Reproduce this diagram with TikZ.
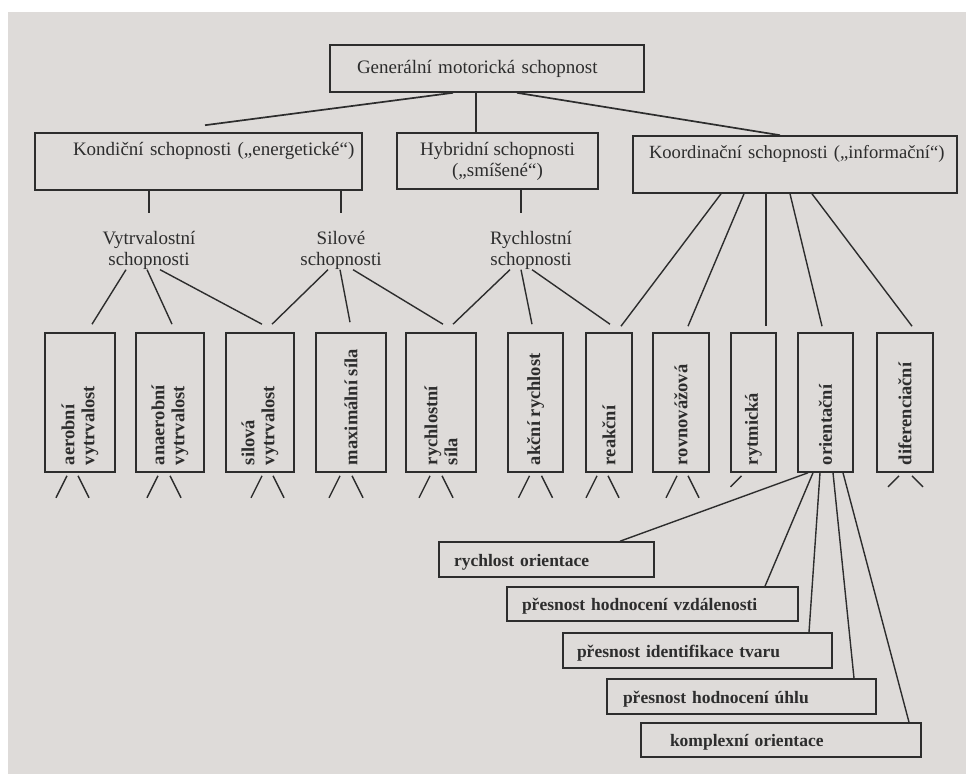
\documentclass[tikz,border=0pt]{standalone}
\usepackage{fontspec}
\setmainfont{Liberation Serif}
\usepackage{graphicx}
\definecolor{ink}{RGB}{45,45,45}
\definecolor{paper}{RGB}{222,219,217}
\newcommand{\vlab}[1]{\rotatebox{90}{\parbox{125pt}{\raggedright\bfseries\fontsize{18.5}{20}\selectfont #1}}}
\tikzset{
 box/.style={draw=ink, line width=1.6pt, inner sep=0pt, text=ink},
 tbox/.style={box, align=left, font=\fontsize{19}{21}\selectfont},
 vbox/.style={box, minimum height=139pt},
 obox/.style={box, align=left, font=\bfseries\fontsize{17.5}{20}\selectfont, text height=15pt, text depth=2pt},
 lab/.style={inner sep=0pt, text=ink, align=center, font=\fontsize{19}{21}\selectfont},
 con/.style={draw=ink, line width=1.4pt},
}
\begin{document}
\begin{tikzpicture}[x=1pt,y=-1pt]
\useasboundingbox (0,0) rectangle (966,774);
\fill[white] (0,0) rectangle (966,774);
\fill[paper] (8,12) rectangle (966,774);

% top level
\node[tbox, text width=314pt, minimum height=47pt] (gen) at (487,68.5) {\hspace*{27pt}Generální motorická schopnost};
\node[tbox, text width=327pt, minimum height=57pt, text height=14pt, text depth=27pt] (kond) at (198.5,161.5) {\hspace*{38pt}Kondiční schopnosti („energetické“)};
\node[box, align=center, font=\fontsize{19}{21}\selectfont, minimum width=201pt, minimum height=56pt] (hyb) at (497.5,161) {Hybridní schopnosti\\(„smíšené“)};
\node[tbox, text width=324pt, minimum height=57pt, text height=14pt, text depth=27pt, font=\fontsize{18.6}{21}\selectfont] (koord) at (795,164.5) {\hspace*{16pt}Koordinační schopnosti („informační“)};

\draw[con, line width=1.7pt] ([xshift=-34pt]gen.south) -- ([xshift=6.5pt,yshift=7pt]kond.north);
\draw[con] ([xshift=-11pt]gen.south) -- ([xshift=-21.5pt]hyb.north);
\draw[con, line width=1.7pt] ([xshift=30pt]gen.south) -- ([xshift=-15pt]koord.north);

% group labels
\node[lab, anchor=north] (vytr) at (149,231) {Vytrvalostní\\schopnosti};
\node[lab, anchor=north] (silo) at (341,231) {Silové\\schopnosti};
\node[lab, anchor=north] (rych) at (531,231) {Rychlostní\\schopnosti};
\coordinate (rychtop) at ([xshift=-10pt]rych.north);

\draw[con] (kond.south -| vytr.north) -- ([yshift=18pt]vytr.north);
\draw[con] (kond.south -| silo.north) -- ([yshift=18pt]silo.north);
\draw[con] (rychtop |- hyb.south) -- ([yshift=18pt]rychtop);

% vertical boxes
\node[vbox, minimum width=70pt] (aer) at (80,402.5) {\vlab{aerobní\\vytrvalost}};
\node[vbox, minimum width=68pt] (ana) at (170,402.5) {\vlab{anaerobní\\vytrvalost}};
\node[vbox, minimum width=68pt] (silv) at (260,402.5) {\vlab{silová\\vytrvalost}};
\node[vbox, minimum width=70pt] (maxs) at (351,402.5) {\vlab{maximální síla}};
\node[vbox, minimum width=70pt] (rsila) at (441,402.5) {\vlab{rychlostní\\síla}};
\node[vbox, minimum width=55pt] (akc) at (535.5,402.5) {\vlab{akční rychlost}};
\node[vbox, minimum width=46pt] (rea) at (609,402.5) {\vlab{reakční}};
\node[vbox, minimum width=56pt] (rov) at (681,402.5) {\vlab{rovnovážová}};
\node[vbox, minimum width=45pt] (ryt) at (753.5,402.5) {\vlab{rytmická}};
\node[vbox, minimum width=55pt] (ori) at (825.5,402.5) {\vlab{orientační}};
\node[vbox, minimum width=56pt] (dif) at (905,402.5) {\vlab{diferenciační}};

% label -> boxes
\draw[con] ([xshift=-23pt]vytr.south) -- ([xshift=12pt,yshift=8pt]aer.north);
\draw[con] ([xshift=-2pt]vytr.south) -- ([xshift=2pt,yshift=8pt]ana.north);
\draw[con] ([xshift=11pt]vytr.south) -- ([xshift=2pt,yshift=8pt]silv.north);
\draw[con] ([xshift=-13pt]silo.south) -- ([xshift=12pt,yshift=8pt]silv.north);
\draw[con] ([xshift=-1pt]silo.south) -- ([xshift=-1pt,yshift=10pt]maxs.north);
\draw[con] ([xshift=12pt]silo.south) -- ([xshift=2pt,yshift=8pt]rsila.north);
\draw[con] ([xshift=-21pt]rych.south) -- ([xshift=12pt,yshift=8pt]rsila.north);
\draw[con] ([xshift=-10pt]rych.south) -- ([xshift=-3.5pt,yshift=8pt]akc.north);
\draw[con] ([xshift=1pt]rych.south) -- ([xshift=1pt,yshift=8pt]rea.north);

% koordinacni -> boxes
\draw[con] ([xshift=-74pt]koord.south) -- ([xshift=12pt,yshift=6pt]rea.north);
\draw[con] ([xshift=-51pt]koord.south) -- ([xshift=7pt,yshift=6pt]rov.north);
\draw[con] ([xshift=-29pt]koord.south) -- ([xshift=12.5pt,yshift=6pt]ryt.north);
\draw[con] ([xshift=-5pt]koord.south) -- ([xshift=-3.5pt,yshift=6pt]ori.north);
\draw[con] ([xshift=17pt]koord.south) -- ([xshift=7pt,yshift=6pt]dif.north);

% stubs
\foreach \n/\l/\r in {aer/-13/-2, ana/-12/0, silv/2/13, maxs/-11/1, rsila/-11/1, akc/-6/6, rea/-12/-1, rov/-4/7}{
  \draw[con] ([xshift=\l pt,yshift=-3pt]\n.south) -- ++(-11,22);
  \draw[con] ([xshift=\r pt,yshift=-3pt]\n.south) -- ++(11,22);
}
\draw[con] ([xshift=-12pt,yshift=-3pt]ryt.south) -- ++(-11,11);
\draw[con] ([xshift=-6pt,yshift=-3pt]dif.south) -- ++(-11,11);
\draw[con] ([xshift=7pt,yshift=-3pt]dif.south) -- ++(11,11);

% orientation boxes
\node[obox, text width=215pt, minimum height=35pt] (ro) at (546.5,559.5) {\hspace*{15pt}rychlost orientace};
\node[obox, text width=291pt, minimum height=34pt] (vzd) at (652.5,604) {\hspace*{15pt}přesnost hodnocení vzdálenosti};
\node[obox, text width=269pt, minimum height=35pt] (tvar) at (697.5,650.5) {\hspace*{14pt}přesnost identifikace tvaru};
\node[obox, text width=269pt, minimum height=35pt] (uhel) at (741.5,696.5) {\hspace*{16pt}přesnost hodnocení úhlu};
\node[obox, text width=280pt, minimum height=34pt] (komp) at (781,740) {\hspace*{29pt}komplexní orientace};

\draw[con] ([xshift=-17.5pt]ori.south) -- ([xshift=73.5pt]ro.north);
\draw[con] ([xshift=-12.5pt]ori.south) -- ([xshift=112.5pt]vzd.north);
\draw[con] ([xshift=-5.5pt]ori.south) -- ([xshift=111.5pt]tvar.north);
\draw[con] ([xshift=7.5pt]ori.south) -- ([xshift=112.5pt]uhel.north);
\draw[con] ([xshift=17.5pt]ori.south) -- ([xshift=128pt]komp.north);
\end{tikzpicture}
\end{document}
